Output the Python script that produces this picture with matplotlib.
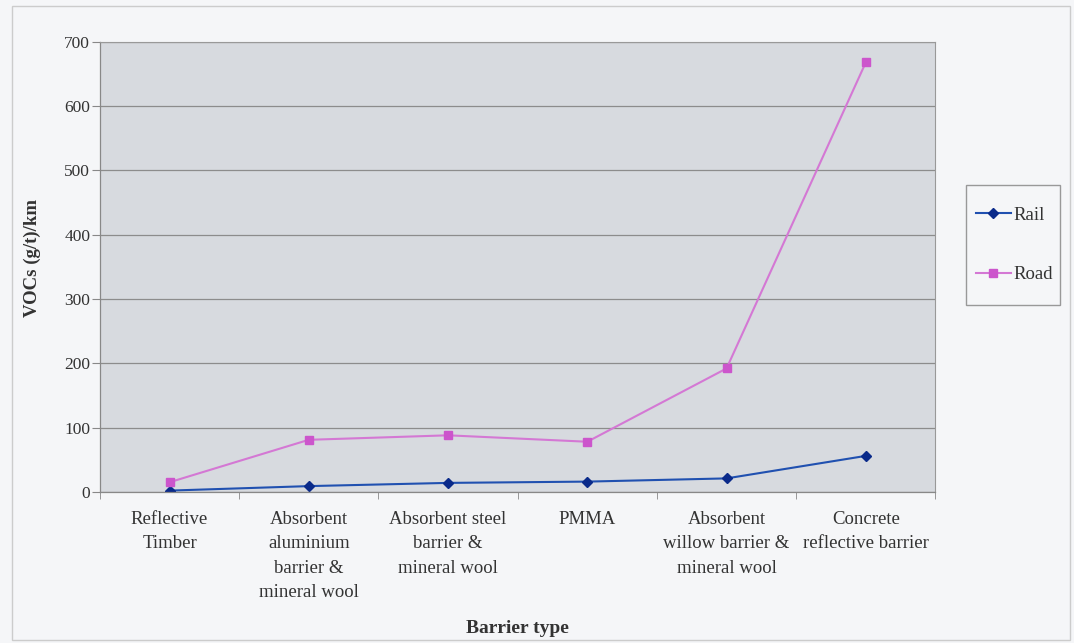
import matplotlib
matplotlib.use("Agg")
import matplotlib.pyplot as plt
import numpy as np
from matplotlib.patches import Rectangle

categories = ["Reflective\nTimber",
              "Absorbent\naluminium\nbarrier &\nmineral wool",
              "Absorbent steel\nbarrier &\nmineral wool",
              "PMMA",
              "Absorbent\nwillow barrier &\nmineral wool",
              "Concrete\nreflective barrier"]
rail = [2, 9, 14, 16, 21, 56]
road = [15, 81, 88, 78, 192, 668]
yticks = [0, 100, 200, 300, 400, 500, 600, 700]

plt.rcParams['font.family'] = ['Liberation Serif', 'DejaVu Serif']

W, H = 1074, 643
fig = plt.figure(figsize=(W / 100, H / 100), dpi=100)
fig.patch.set_facecolor('#f5f6f8')
fig.patches.append(Rectangle((0.011, 0.005), 0.985, 0.985, transform=fig.transFigure,
                             fill=False, edgecolor='#cccccc', lw=1))

ax = fig.add_axes([0.093, 0.235, 0.778, 0.700])
ax.set_facecolor('#d7dadf')
x = np.arange(len(categories))
ax.plot(x, rail, color='#2050b0', lw=1.5, marker='D', ms=5,
        markerfacecolor='#0a2a8a', markeredgecolor='#0a2a8a', label='Rail')
ax.plot(x, road, color='#d478d4', lw=1.5, marker='s', ms=6,
        markerfacecolor='#cc55cc', markeredgecolor='#cc55cc', label='Road')

ax.set_xlim(-0.5, len(categories) - 0.5)
ax.set_ylim(0, 700)
ax.set_yticks(yticks)
ax.set_yticklabels([str(v) for v in yticks], fontsize=12.5, color='#333333')
ax.set_xticks(x)
ax.set_xticklabels(categories, fontsize=13.5, color='#333333', linespacing=1.55)
ax.set_xticks(np.arange(-0.5, len(categories), 1), minor=True)
ax.tick_params(axis='x', which='major', length=0, pad=14)
ax.tick_params(axis='x', which='minor', length=5, color='#888888')
ax.tick_params(axis='y', length=6, color='#888888', pad=1)
ax.grid(axis='y', color='#8c8c8c', lw=0.9)
ax.set_axisbelow(True)
for s in ['top', 'right']:
    ax.spines[s].set_color('#999999')
    ax.spines[s].set_linewidth(0.8)
for s in ['left', 'bottom']:
    ax.spines[s].set_color('#888888')
    ax.spines[s].set_linewidth(0.9)

ax.set_ylabel('VOCs (g/t)/km', fontsize=13.5, fontweight='bold', color='#333333')
ax.yaxis.set_label_coords(-0.07, 0.52)
ax.set_xlabel('Barrier type', fontsize=14, fontweight='bold', color='#333333')
ax.xaxis.set_label_coords(0.5, -0.285)

# legend frame
fig.patches.append(Rectangle((966 / W, 1 - 305 / H), 94 / W, 120 / H,
                             transform=fig.transFigure, fill=False,
                             edgecolor='#999999', lw=1))
leg = fig.legend(*ax.get_legend_handles_labels(), loc='center left',
                 bbox_to_anchor=(976 / W, 1 - 245 / H), fontsize=13.5,
                 frameon=False, labelspacing=2.25, handlelength=1.85,
                 handletextpad=0.15, borderpad=0, borderaxespad=0)
for t in leg.get_texts():
    t.set_color('#333333')

fig.savefig('out.png', dpi=100, facecolor=fig.get_facecolor())
